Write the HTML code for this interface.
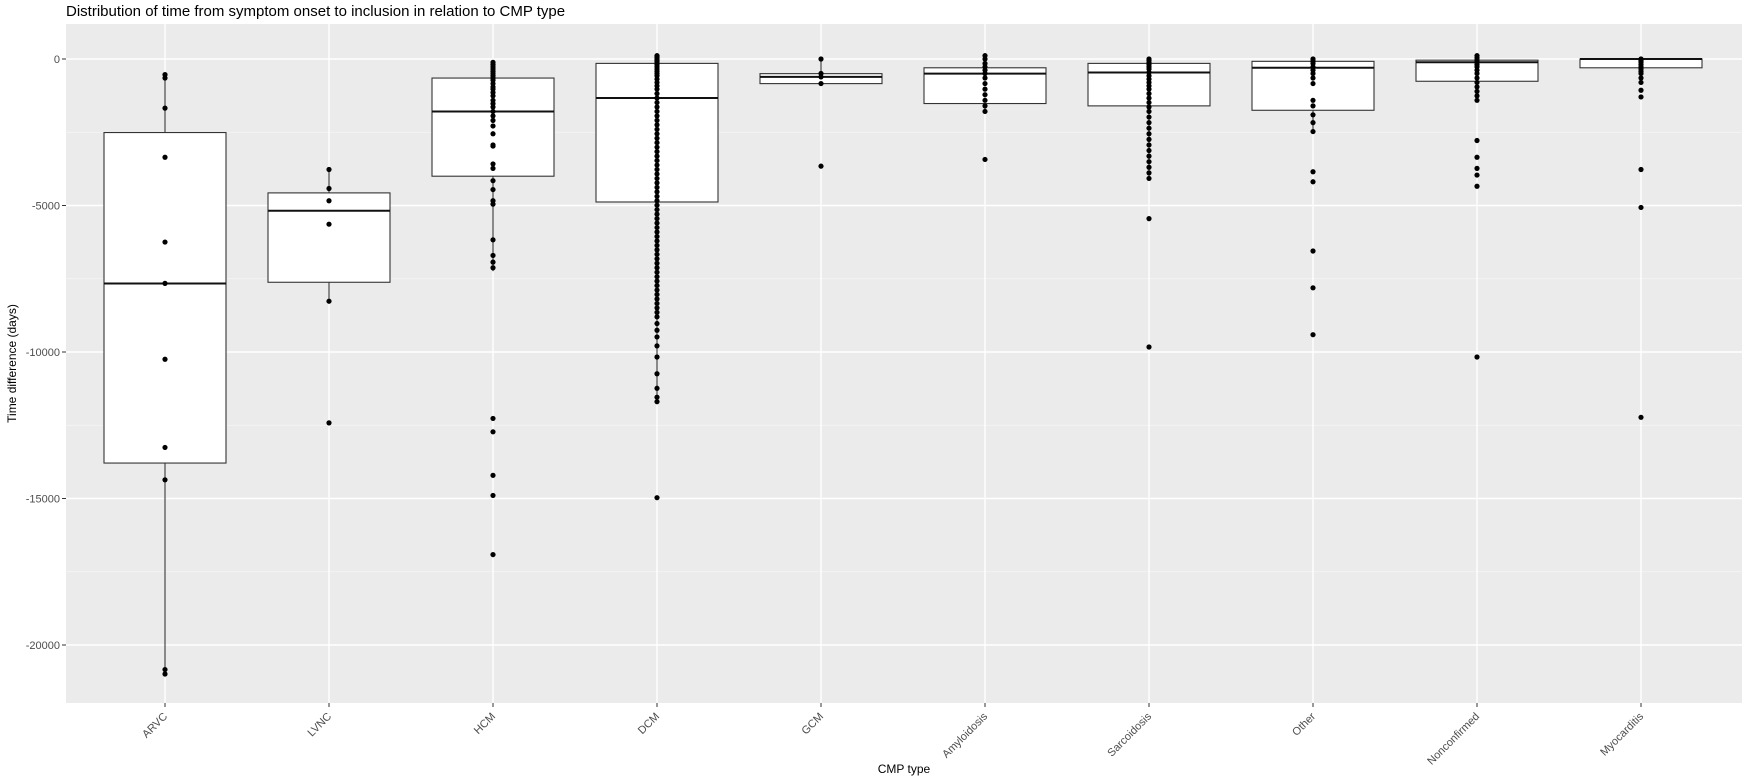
<!DOCTYPE html>
<html><head><meta charset="utf-8"><style>
body{margin:0;background:#fff;}
svg{display:block;font-family:"Liberation Sans",Arial,sans-serif;}
</style></head><body>
<svg id="s" width="1750" height="783" xmlns="http://www.w3.org/2000/svg"></svg>
<script>
const s=document.getElementById('s');
const NS='http://www.w3.org/2000/svg';
function el(t,a,txt){const e=document.createElementNS(NS,t);for(const k in a)e.setAttribute(k,a[k]);if(txt!==undefined)e.textContent=txt;s.appendChild(e);return e;}
const L=66,R=1742,T=24,B=703;
const Y=v=>59+(-v)*0.0293;
const X=i=>165+i*164;
el('rect',{x:L,y:T,width:R-L,height:B-T,fill:'#ebebeb'});
for(let v=2500;v>-22500;v-=5000){const y=Y(v);if(y>T&&y<B)el('line',{x1:L,x2:R,y1:y,y2:y,stroke:'#f5f5f5','stroke-width':0.8});}
for(let v=0;v>=-20000;v-=5000){const y=Y(v);el('line',{x1:L,x2:R,y1:y,y2:y,stroke:'#fff','stroke-width':1.4});
el('line',{x1:L-4,x2:L,y1:y,y2:y,stroke:'#333'});
el('text',{x:L-6,y:y+4,'text-anchor':'end','font-size':11,fill:'#4d4d4d'},String(v));}
const names=['ARVC','LVNC','HCM','DCM','GCM','Amyloidosis','Sarcoidosis','Other','Nonconfirmed','Myocarditis'];
for(let i=0;i<10;i++){el('line',{x1:X(i),x2:X(i),y1:T,y2:B,stroke:'#fff','stroke-width':1.4});
el('line',{x1:X(i),x2:X(i),y1:B,y2:B+4,stroke:'#333'});
const t=el('text',{x:X(i)+3,y:B+14,'text-anchor':'end','font-size':11,fill:'#4d4d4d',transform:`rotate(-45 ${X(i)+3} ${B+14})`},names[i]);}
// boxes: [wTop,q3,med,q1,wBot, points]
const px=a=>a.map(y=>-(y-53)/26.25*1000);
const D=[
[-530,-2510,-7660,-13790,-20990,px([67,70,97,141,217,254,322,401,430,600,604])],
[-3770,-4570,-5180,-7620,-8270,px([152,169,180,201,270,379])],
[-100,-650,-1790,-4000,-7240,px([56,58,60,62,64,66,68,70,72,75,78,80,83,86,90,93,96,100,104,108,113,120,130,131,147,151,162,170,180,183,215,229,235,240,375,387,426,444,497])],
[0,-150,-1330,-4880,-11700,px([50,51,52,53,54,55,56,58,60,62,64,66,68,71,74,77,80,84,88,92,96,100,104,108,112,116,120,124,128,132,136,140,144,148,152,156,160,164,168,172,176,180,184,188,192,196,200,204,208,212,216,220,224,228,232,236,240,244,248,252,256,260,264,268,272,276,280,284,290,296,302,310,320,335,348,356,360,446])],
[0,-500,-610,-840,-840,px([53,66,69,75,149])],
[0,-300,-500,-1520,-1850,px([50,53,57,60,63,66,70,75,80,85,90,95,100,143])],
[0,-150,-460,-1600,-4100,px([53,54,56,58,60,62,65,68,71,74,77,80,84,88,92,96,100,105,110,115,120,125,130,135,140,145,150,155,160,196,311])],
[0,-80,-300,-1750,-2480,px([53,55,57,60,63,66,70,75,90,95,103,110,118,154,163,225,258,300])],
[0,-40,-110,-760,-1400,px([50,52,54,56,58,60,63,66,70,74,78,82,86,90,126,141,151,157,167,320])],
[0,0,0,-300,-500,px([53,54,55,56,58,60,62,64,66,70,74,81,87,152,186,374])]
];
D.forEach((d,i)=>{const x=X(i),h=61;
el('line',{x1:x,x2:x,y1:Y(d[0]),y2:Y(d[1]),stroke:'#333','stroke-width':1.1});
el('line',{x1:x,x2:x,y1:Y(d[3]),y2:Y(d[4]),stroke:'#333','stroke-width':1.1});
el('rect',{x:x-h,y:Y(d[1]),width:2*h,height:Math.max(1,Y(d[3])-Y(d[1])),fill:'#fff',stroke:'#333','stroke-width':1.1});
el('line',{x1:x-h,x2:x+h,y1:Y(d[2]),y2:Y(d[2]),stroke:'#111','stroke-width':2});
d[5].forEach(v=>el('circle',{cx:x,cy:Y(v),r:2.6,fill:'#000'}));
});
el('text',{x:66,y:16,'font-size':15,fill:'#000'},'Distribution of time from symptom onset to inclusion in relation to CMP type');
el('text',{x:(L+R)/2,y:773,'text-anchor':'middle','font-size':12,fill:'#000'},'CMP type');
el('text',{x:16,y:(T+B)/2,'text-anchor':'middle','font-size':12,fill:'#000',transform:`rotate(-90 16 ${(T+B)/2})`},'Time difference (days)');
</script>
</body></html>
